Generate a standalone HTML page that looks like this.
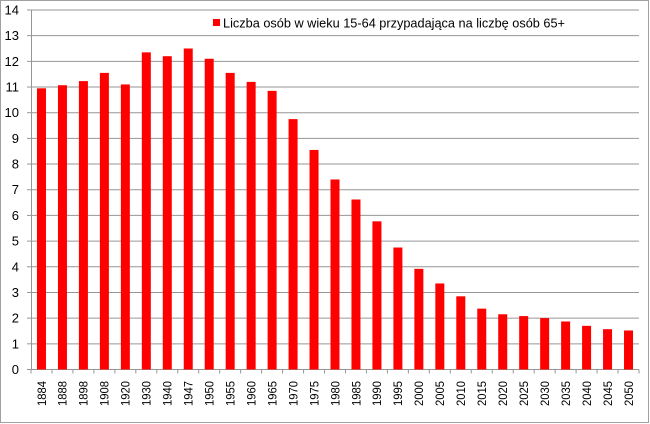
<!DOCTYPE html>
<html><head><meta charset="utf-8"><style>
html,body{margin:0;padding:0;background:#fff}
svg{display:block}
text{font-family:"Liberation Sans",sans-serif;fill:#000}
</style></head><body>
<svg width="650" height="424" viewBox="0 0 650 424" xmlns="http://www.w3.org/2000/svg">
<rect x="0.5" y="0.5" width="648" height="422" fill="#fff" stroke="#a0a0a0"/>
<g id="g"></g>
</svg>
<script>
var vals=[10.95,11.07,11.23,11.55,11.1,12.35,12.2,12.5,12.1,11.55,11.2,10.85,9.75,8.55,7.4,6.62,5.77,4.75,3.92,3.35,2.85,2.37,2.15,2.08,2.0,1.87,1.7,1.57,1.52];
var yrs=[1884,1888,1898,1908,1920,1930,1940,1947,1950,1955,1960,1965,1970,1975,1980,1985,1990,1995,2000,2005,2010,2015,2020,2025,2030,2035,2040,2045,2050];
var x0=31,x1=639,y0=369.5,u=25.68,cw=(x1-x0)/29;
var s='';
for(var i=0;i<=14;i++){var y=y0-i*u;
 if(i>0)s+='<line x1="'+x0+'" x2="'+x1+'" y1="'+y+'" y2="'+y+'" stroke="#969696" stroke-width="1"/>';
 s+='<line x1="27" x2="'+x0+'" y1="'+y+'" y2="'+y+'" stroke="#969696"/>';
 s+='<text x="19" y="'+(y+4.5)+'" font-size="13" text-anchor="end">'+i+'</text>';}
s+='<line x1="'+(x0+0.5)+'" x2="'+(x0+0.5)+'" y1="'+(y0-14*u)+'" y2="'+y0+'" stroke="#969696"/>';
s+='<line x1="'+x0+'" x2="'+x1+'" y1="'+y0+'" y2="'+y0+'" stroke="#969696"/>';
for(var i=0;i<=29;i++){var x=x0+i*cw;s+='<line x1="'+x+'" x2="'+x+'" y1="'+y0+'" y2="'+(y0+4)+'" stroke="#969696"/>';}
for(var i=0;i<29;i++){var c=x0+(i+0.5)*cw,h=vals[i]*u;
 s+='<rect x="'+(c-4.5)+'" y="'+(y0-h)+'" width="9" height="'+h+'" fill="#ff0000"/>';
 s+='<text transform="translate('+(c+4.3)+',406) rotate(-90)" font-size="12" textLength="25" lengthAdjust="spacingAndGlyphs">'+yrs[i]+'</text>';}
s+='<rect x="213" y="19" width="7" height="7" fill="#ff0000"/>';
s+='<text x="223" y="27.5" font-size="13" textLength="342" lengthAdjust="spacingAndGlyphs">Liczba osób w wieku 15-64 przypadająca na liczbę osób 65+</text>';
document.getElementById('g').innerHTML=s;
</script>
</body></html>
